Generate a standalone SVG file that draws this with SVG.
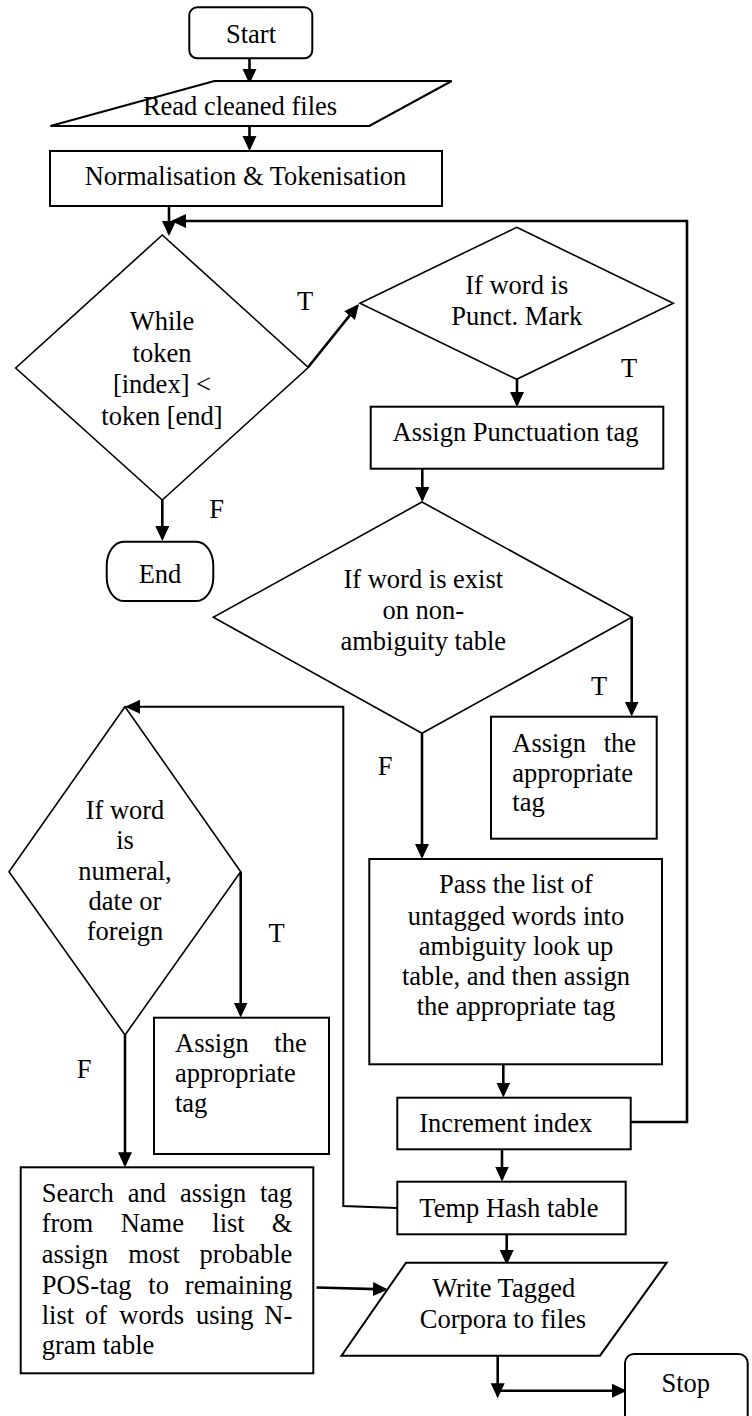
<svg xmlns="http://www.w3.org/2000/svg" width="752" height="1416" viewBox="0 0 752 1416">
<style>
.shape{fill:#fff;stroke:#000;stroke-width:2}
.dia{fill:#fff;stroke:#000;stroke-width:1.6}
.conn{fill:none;stroke:#000;stroke-width:2.6}
.arr{marker-end:url(#ah)}
text{font-family:"Liberation Serif","Times New Roman",serif;font-size:26.5px;fill:#000}
.c{text-anchor:middle}
.e{text-anchor:end}
</style>
<defs>
<marker id="ah" markerUnits="userSpaceOnUse" markerWidth="16" markerHeight="16" refX="12.5" refY="7" orient="auto">
<path d="M0,0 L15,7 L0,14 Z" fill="#000"/>
</marker>
</defs>
<rect width="752" height="1416" fill="#fff"/>

<g id="connectors">
<line class="conn arr" x1="249.5" y1="58" x2="249.5" y2="81.5"/>
<line class="conn arr" x1="249.5" y1="126" x2="249.5" y2="148.5"/>
<line class="conn arr" x1="169" y1="206" x2="169" y2="233.5"/>
<path class="conn arr" d="M631,1122 H687 V221 H173.5"/>
<line class="conn arr" x1="308.3" y1="367" x2="357.4" y2="305.9"/>
<line class="conn arr" x1="162.3" y1="500" x2="162.3" y2="538.5"/>
<line class="conn arr" x1="517" y1="379" x2="517" y2="404.5"/>
<line class="conn arr" x1="422.3" y1="469" x2="422.3" y2="499.5"/>
<line class="conn arr" x1="631.7" y1="617" x2="631.7" y2="714"/>
<line class="conn arr" x1="422" y1="733" x2="422" y2="856.5"/>
<line class="conn arr" x1="503.3" y1="1064" x2="503.3" y2="1095"/>
<line class="conn arr" x1="502" y1="1149.3" x2="502" y2="1179"/>
<path class="conn arr" d="M397,1208 L343.3,1206 V706.7 H127.5" style="stroke-width:2"/>
<line class="conn arr" x1="240.7" y1="871.7" x2="240.7" y2="1015"/>
<line class="conn arr" x1="125" y1="1035" x2="125" y2="1164.8"/>
<line class="conn arr" x1="506.7" y1="1234" x2="506.7" y2="1262.5"/>
<line class="conn arr" x1="316.5" y1="1287.5" x2="385.5" y2="1289.4"/>
<line class="conn arr" x1="497.7" y1="1356" x2="497.7" y2="1395.8"/>
<line class="conn arr" x1="497.7" y1="1390.7" x2="624.5" y2="1390.7"/>
</g>

<g id="start">
<rect class="shape" x="189.3" y="7.3" width="123" height="51" rx="8"/>
<text class="c" x="251" y="43">Start</text>
</g>

<g id="read">
<polygon class="shape" points="214.4,81 451.7,81 369.3,126 50.4,126"/>
<text class="c" x="240" y="115">Read cleaned files</text>
</g>

<g id="normalise">
<rect class="shape" x="50" y="151" width="392" height="55"/>
<text class="c" x="245.5" y="185">Normalisation &amp; Tokenisation</text>
</g>

<g id="while">
<polygon class="dia" points="162.3,235 308.3,367.5 162.3,500 15.7,368"/>
<text class="c"><tspan x="162" y="330">While</tspan><tspan x="162" y="361.7">token</tspan><tspan x="162" y="393.3">[index] &lt;</tspan><tspan x="162" y="424.5">token [end]</tspan></text>
</g>

<g id="labels">
<text class="c" x="305" y="310">T</text>
<text class="c" x="216.7" y="518.3">F</text>
<text class="c" x="629" y="377">T</text>
<text class="c" x="599" y="695">T</text>
<text class="c" x="385" y="775">F</text>
<text class="c" x="276.7" y="941.7">T</text>
<text class="c" x="84" y="1078.3">F</text>
</g>

<g id="end">
<rect class="shape" x="106.7" y="541.7" width="106.6" height="59.3" rx="17" ry="24"/>
<text class="c" x="160" y="582.7">End</text>
</g>

<g id="punct">
<polygon class="dia" points="516.7,227.3 673.3,303.3 516.7,379.3 360,303.3"/>
<text class="c"><tspan x="516.7" y="294">If word is</tspan><tspan x="516.7" y="325">Punct. Mark</tspan></text>
</g>

<g id="assignPunct">
<rect class="shape" x="370.7" y="406.7" width="292.6" height="62"/>
<text class="c" x="515.5" y="440.7">Assign Punctuation tag</text>
</g>

<g id="nonambig">
<polygon class="dia" points="422,502 631.7,617.3 422,733.3 213.3,617.3"/>
<text class="c"><tspan x="423.3" y="588.3">If word is exist</tspan><tspan x="423.3" y="619.3">on non-</tspan><tspan x="423.3" y="650">ambiguity table</tspan></text>
</g>

<g id="assign1">
<rect class="shape" x="491" y="716.7" width="165.7" height="122"/>
<text x="512.3" y="751.7">Assign</text>
<text class="e" x="636" y="751.7">the</text>
<text x="512.3" y="781.7">appropriate</text>
<text x="512.3" y="811">tag</text>
</g>

<g id="pass">
<rect class="shape" x="369.3" y="859" width="292.7" height="205.3"/>
<text class="c"><tspan x="516" y="893.3">Pass the list of</tspan><tspan x="516" y="925">untagged words into</tspan><tspan x="516" y="955">ambiguity look up</tspan><tspan x="516" y="985">table, and then assign</tspan><tspan x="516" y="1015">the appropriate tag</tspan></text>
</g>

<g id="increment">
<rect class="shape" x="397.3" y="1097.7" width="233.4" height="51.6"/>
<text x="419.3" y="1131.7">Increment index</text>
</g>

<g id="temphash">
<rect class="shape" x="397.3" y="1181.7" width="228.4" height="52.6"/>
<text x="419.3" y="1216.7">Temp Hash table</text>
</g>

<g id="numeral">
<polygon class="dia" points="125,706.7 240.7,871.7 125,1035 9,871.7"/>
<text class="c"><tspan x="125" y="819.3">If word</tspan><tspan x="125" y="849.3">is</tspan><tspan x="125" y="880">numeral,</tspan><tspan x="125" y="910">date or</tspan><tspan x="125" y="940">foreign</tspan></text>
</g>

<g id="assign2">
<rect class="shape" x="154" y="1017.7" width="175" height="136.3"/>
<text x="175" y="1051.7">Assign</text>
<text class="e" x="306.7" y="1051.7">the</text>
<text x="175" y="1081.7">appropriate</text>
<text x="175" y="1111.7">tag</text>
</g>

<g id="search">
<rect class="shape" x="20.7" y="1167.3" width="292.6" height="206"/>
<text x="41.7" y="1202.3">Search</text><text x="127.7" y="1202.3">and</text><text x="180" y="1202.3">assign</text><text class="e" x="292.3" y="1202.3">tag</text>
<text x="41.7" y="1231.7">from</text><text x="120.7" y="1231.7">Name</text><text x="212.3" y="1231.7">list</text><text class="e" x="292.3" y="1231.7">&amp;</text>
<text x="41.7" y="1263.3">assign</text><text x="128.3" y="1263.3">most</text><text class="e" x="292.3" y="1263.3">probable</text>
<text x="41.7" y="1294.3">POS-tag</text><text x="148.3" y="1294.3">to</text><text class="e" x="292.3" y="1294.3">remaining</text>
<text x="41.7" y="1324.3">list</text><text x="85" y="1324.3">of</text><text x="119.3" y="1324.3">words</text><text x="196" y="1324.3">using</text><text class="e" x="292.3" y="1324.3">N-</text>
<text x="41.7" y="1354.3">gram table</text>
</g>

<g id="write">
<polygon class="shape" points="406,1262.7 666.7,1262.7 600,1355.7 341.5,1355.7"/>
<text class="c"><tspan x="503.7" y="1296.7">Write Tagged</tspan><tspan x="503" y="1328.3">Corpora to files</tspan></text>
</g>

<g id="stop">
<rect class="shape" x="625" y="1354" width="122.7" height="70" rx="9"/>
<text class="c" x="685.8" y="1391.7">Stop</text>
</g>
</svg>
